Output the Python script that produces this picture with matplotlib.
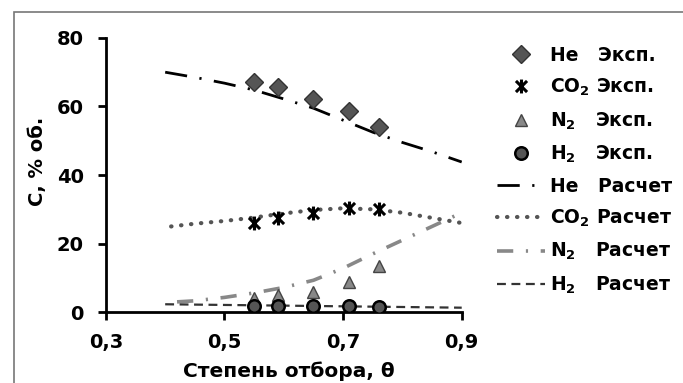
import numpy as np
import matplotlib
matplotlib.use("Agg")
import matplotlib.pyplot as plt
from matplotlib.patches import Rectangle
from matplotlib.path import Path

plt.rcParams['font.family'] = ['DejaVu Sans']
plt.rcParams['font.weight'] = 'bold'
plt.rcParams['mathtext.default'] = 'bf'

# experimental points
x_exp = [0.55, 0.59, 0.65, 0.71, 0.76]
he_exp = [67.2, 65.7, 62.2, 58.7, 54.0]
co2_exp = [26.1, 27.4, 29.0, 30.4, 30.0]
n2_exp = [4.2, 5.0, 5.9, 8.9, 13.4]
h2_exp = [1.7, 1.7, 1.7, 1.7, 1.6]

# calculated curves
x_he = [0.40, 0.45, 0.50, 0.55, 0.60, 0.65, 0.70, 0.75, 0.80, 0.85, 0.90]
he_calc = [70.0, 68.5, 66.8, 64.8, 62.2, 59.5, 56.0, 52.5, 49.5, 46.8, 43.8]
x_co2 = [0.41, 0.45, 0.50, 0.55, 0.60, 0.65, 0.70, 0.75, 0.80, 0.85, 0.90]
co2_calc = [25.0, 25.8, 26.6, 27.6, 28.8, 29.8, 30.3, 30.0, 29.0, 27.5, 26.0]
x_n2 = [0.42, 0.45, 0.50, 0.55, 0.60, 0.65, 0.70, 0.75, 0.80, 0.85, 0.90]
n2_calc = [3.0, 3.3, 4.3, 5.6, 7.2, 9.3, 12.8, 17.0, 21.0, 25.0, 29.0]
x_h2 = [0.40, 0.50, 0.60, 0.70, 0.80, 0.90]
h2_calc = [2.3, 2.1, 1.9, 1.7, 1.5, 1.3]

xticks = [0.3, 0.5, 0.7, 0.9]
xticklabels = ['0,3', '0,5', '0,7', '0,9']
yticks = [0, 20, 40, 60, 80]

# excel-like "star" marker: x with a vertical bar
star = Path([(-1, -1), (1, 1), (-1, 1), (1, -1), (0, -1.25), (0, 1.25)],
            [Path.MOVETO, Path.LINETO, Path.MOVETO, Path.LINETO, Path.MOVETO, Path.LINETO])

fig = plt.figure(figsize=(6.83, 3.83), dpi=100)
ax = fig.add_axes([0.155, 0.185, 0.521, 0.716])

# frame around the picture
fig.patches.append(Rectangle((14/683, -0.1), 1.2, 1 - 12/383 + 0.1, transform=fig.transFigure,
                             fill=False, edgecolor='#777777', linewidth=1.2))

h1, = ax.plot(x_exp, he_exp, 'D', color='#555555', mec='#333333', ms=9, ls='none', label='He   Эксп.')
h2, = ax.plot(x_exp, co2_exp, marker=star, color='black', ms=10, mew=2.2, ls='none', label='CO$_2$ Эксп.')
h3, = ax.plot(x_exp, n2_exp, '^', color='#888888', mec='#444444', ms=9, ls='none', label='N$_2$   Эксп.')
h4, = ax.plot(x_exp, h2_exp, 'o', color='#555555', mec='black', mew=1.8, ms=9, ls='none', label='H$_2$   Эксп.')

l1, = ax.plot(x_he, he_calc, color='black', lw=2, ls=(0, (8, 4.5, 0.8, 4.5)), label='He   Расчет')
l2, = ax.plot(x_co2, co2_calc, color='#555555', lw=3, ls=(0, (0.1, 2.3)), dash_capstyle='round', label='CO$_2$ Расчет')
l3, = ax.plot(x_n2, n2_calc, color='#888888', lw=2.6, ls=(0, (4.5, 3.5, 0.6, 3.5)), label='N$_2$   Расчет')
l4, = ax.plot(x_h2, h2_calc, color='#333333', lw=1.6, ls=(0, (4, 2.5)), label='H$_2$   Расчет')

# draw markers above the lines
for h in (h1, h2, h3, h4):
    h.set_zorder(5)

ax.set_xlim(0.3, 0.9)
ax.set_ylim(0, 80)
ax.set_xticks(xticks)
ax.set_xticklabels(xticklabels)
ax.set_yticks(yticks)
ax.tick_params(labelsize=14, width=2, length=6)
ax.tick_params(axis='y', pad=10)
ax.tick_params(axis='x', pad=9)
for s in ('top', 'right'):
    ax.spines[s].set_visible(False)
for s in ('left', 'bottom'):
    ax.spines[s].set_linewidth(2)
ax.set_xlabel('Степень отбора, θ', fontsize=14.5, fontweight='bold')
ax.set_ylabel('C, % об.', fontsize=14, fontweight='bold')
ax.xaxis.set_label_coords(0.514, -0.18)
ax.yaxis.set_label_coords(-0.166, 0.55)

fig.legend(handles=[h1, h2, h3, h4, l1, l2, l3, l4], loc='upper left',
           bbox_to_anchor=(497/683, 1 - 46/383), frameon=False, fontsize=13.5,
           handlelength=2.56, handletextpad=0.27, labelspacing=0.64,
           borderpad=0, borderaxespad=0)

fig.savefig('out.png', dpi=100)
